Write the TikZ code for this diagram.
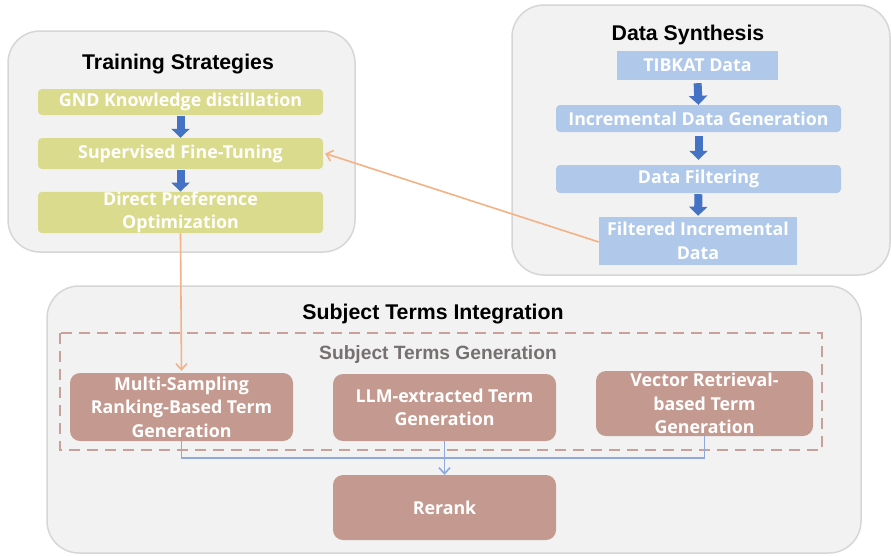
\documentclass[tikz,border=0pt]{standalone}
\usepackage{fontspec}
\setmainfont{Liberation Sans}
\newfontfamily\boxfont{Open Sans}
\usetikzlibrary{arrows.meta}
\definecolor{panelfill}{HTML}{F2F2F2}
\definecolor{paneldraw}{HTML}{D6D6D6}
\definecolor{yellowbox}{HTML}{DADB8C}
\definecolor{bluebox}{HTML}{B0C8EA}
\definecolor{arrowblue}{HTML}{4472C4}
\definecolor{brownbox}{HTML}{C49A90}
\definecolor{orangeline}{HTML}{F4B183}
\definecolor{dashcol}{HTML}{C8A29A}
\definecolor{connblue}{HTML}{8EAADC}
\definecolor{subgray}{HTML}{767171}
\tikzset{
  panel/.style={fill=panelfill, draw=paneldraw, line width=1.5pt, rounded corners=32pt},
  ptitle/.style={font=\fontsize{21.3}{24}\selectfont\bfseries, text=black, inner sep=0pt},
  boxtext/.style={font=\boxfont\bfseries\fontsize{17.8}{23.5}\selectfont, text=white, align=center, inner sep=0pt},
  ybox/.style={boxtext, fill=yellowbox, rounded corners=4pt},
  bbox/.style={boxtext, fill=bluebox},
  bboxr/.style={boxtext, fill=bluebox, rounded corners=4pt},
  brbox/.style={boxtext, fill=brownbox, rounded corners=10pt},
  blockarrow/.style={line width=8pt, draw=arrowblue, -{Triangle[width=18pt,length=9pt]}},
  orangearrow/.style={draw=orangeline, line width=1.6pt, -{Straight Barb[length=6pt,width=11pt]}},
  bluearrow/.style={draw=connblue, line width=1.6pt, -{Straight Barb[length=6pt,width=11pt]}},
  blueline/.style={draw=connblue, line width=1.6pt},
}
\begin{document}
\begin{tikzpicture}[x=1pt,y=-1pt]
\useasboundingbox (0,0) rectangle (891,555);
% panels
\draw[panel] (8,31) rectangle (355,252);
\draw[panel] (512,5) rectangle (890,275);
\draw[panel] (47,286) rectangle (861,553);
% dashed generation frame
\draw[draw=dashcol, line width=1.6pt, dash pattern=on 11pt off 7pt] (60,333) rectangle (822,450);
% titles
\node[ptitle] (tst) at (178,64.5) {Training Strategies};
\node[ptitle] (dst) at (688,34.5) {Data Synthesis};
\node[ptitle] (sti) at (433,314.5) {Subject Terms Integration};
\node[ptitle, text=subgray, font=\fontsize{19.2}{22}\selectfont\bfseries] (stg) at (438,355) {Subject Terms Generation};
% training boxes
\node[ybox, minimum width=285pt, minimum height=26pt] (gnd) at (180.5,102) {GND Knowledge distillation};
\node[ybox, minimum width=285pt, minimum height=31pt] (sft) at (180.5,153.5) {Supervised Fine-Tuning};
\node[ybox, minimum width=285pt, minimum height=41pt] (dpo) at (180.5,212.5) {Direct Preference\\Optimization};
% data boxes
\node[bbox, minimum width=161pt, minimum height=29pt] (tib) at (697.5,65.5) {TIBKAT Data};
\node[bboxr, minimum width=285pt, minimum height=27pt] (inc) at (698.5,118.5) {Incremental Data Generation};
\node[bboxr, minimum width=285pt, minimum height=28pt] (fil) at (698.5,179) {Data Filtering};
\node[bbox, minimum width=198pt, minimum height=48pt] (fid) at (698,241) {Filtered Incremental\\Data};
% subject boxes
\node[brbox, minimum width=223pt, minimum height=68pt] (msr) at (181.5,407) {Multi-Sampling\\Ranking-Based Term\\Generation};
\node[brbox, minimum width=223pt, minimum height=67pt] (llm) at (444.5,407.5) {LLM-extracted Term\\Generation};
\node[brbox, minimum width=217pt, minimum height=65pt] (vec) at (704.5,403.5) {Vector Retrieval-\\based Term\\Generation};
\node[brbox, minimum width=223pt, minimum height=65pt] (rer) at (444.5,507.5) {Rerank};
% block arrows
\draw[blockarrow, shorten <=1pt] (gnd.south) -- (sft.north);
\draw[blockarrow, shorten <=1pt] (sft.south) -- (dpo.north);
\draw[blockarrow, shorten <=3pt] (tib.south) -- (inc.north);
\draw[blockarrow, shorten <=4pt, shorten >=5pt] (inc.south) -- (fil.north);
\draw[blockarrow, shorten <=1pt, shorten >=1pt] (fil.south) -- (fid.north);
% orange connectors
\draw[orangearrow] ([yshift=-1pt]fid.west) -- ([xshift=2pt]sft.east);
\draw[orangearrow, shorten >=2pt] (dpo.south) -- (msr.north);
% blue connectors
\draw[blueline] (msr.south) -- ++(0,17) coordinate (jl) -| (vec.south);
\draw[bluearrow] (llm.south) -- (rer.north);
\end{tikzpicture}
\end{document}
